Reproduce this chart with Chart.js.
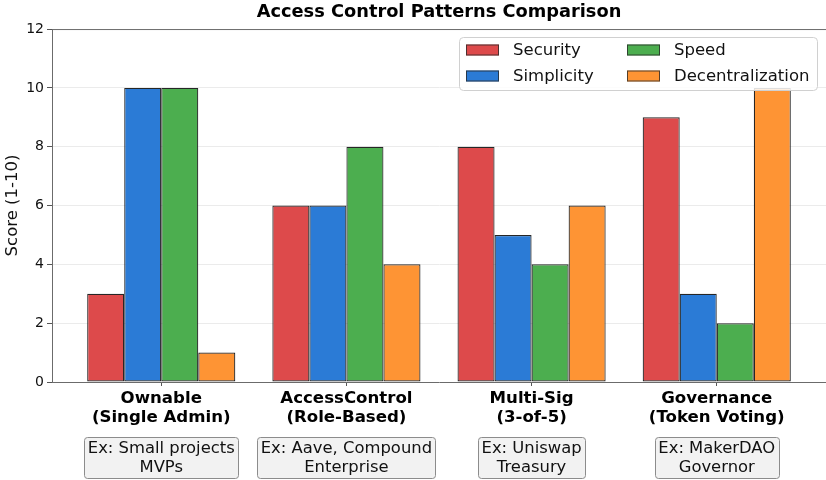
<!DOCTYPE html>
<html>
<head>
<meta charset="utf-8">
<script src="https://cdn.jsdelivr.net/npm/chart.js@4.4.1/dist/chart.umd.min.js"></script>
<style>
  html, body { margin: 0; padding: 0; background: #fff; }
  canvas { display: block; }
</style>
</head>
<body>
<canvas id="accessChart" width="826" height="480"></canvas>
<script>
// chart data
const patterns = [
  ["Ownable", "(Single Admin)"],
  ["AccessControl", "(Role-Based)"],
  ["Multi-Sig", "(3-of-5)"],
  ["Governance", "(Token Voting)"]
];
const examples = [
  ["Ex: Small projects", "MVPs"],
  ["Ex: Aave, Compound", "Enterprise"],
  ["Ex: Uniswap", "Treasury"],
  ["Ex: MakerDAO", "Governor"]
];
const seriesNames = ["Security", "Simplicity", "Speed", "Decentralization"];
const security = [3, 6, 8, 9];
const simplicity = [10, 6, 5, 3];
const speed = [10, 8, 4, 2];
const decentralization = [1, 4, 6, 10];
const yTicks = [0, 2, 4, 6, 8, 10, 12];

const colors = ['#dd4a4b', '#2b7bd6', '#4cae4f', '#fe9434'];
const edge = '#262626';
const font = 'DejaVu Sans';

const allSeries = [security, simplicity, speed, decentralization];

const ctx = document.getElementById('accessChart').getContext('2d');

// top spine, legend in two columns and the example boxes
const extras = {
  id: 'extras',
  afterDatasetsDraw(chart) {
    const c = chart.ctx;
    const area = chart.chartArea;
    c.save();
    c.strokeStyle = '#6b6b6b';
    c.lineWidth = 1;
    c.beginPath();
    c.moveTo(area.left, area.top + 0.5);
    c.lineTo(area.right, area.top + 0.5);
    c.stroke();

    // legend
    c.fillStyle = 'rgba(255,255,255,0.85)';
    c.strokeStyle = '#d0d0d0';
    c.beginPath();
    c.roundRect(459.5, 37.5, 358, 53, 4);
    c.fill();
    c.stroke();
    const colX = [466, 627];
    const rowY = [50, 76];
    c.font = '16.5px "' + font + '"';
    c.textBaseline = 'middle';
    c.textAlign = 'left';
    chart.data.datasets.forEach((ds, i) => {
      const x = colX[Math.floor(i / 2)];
      const y = rowY[i % 2];
      c.fillStyle = ds.backgroundColor;
      c.fillRect(x, y - 5.5, 33, 11);
      c.strokeStyle = 'rgba(40,40,40,0.8)';
      c.strokeRect(x + 0.5, y - 5, 32, 10);
      c.fillStyle = '#111';
      c.fillText(ds.label, x + 47, y + 1);
    });

    // example boxes under the categories
    const xs = chart.scales.x;
    c.font = '16.4px "' + font + '"';
    c.textAlign = 'center';
    examples.forEach((lines, i) => {
      const cx = xs.getPixelForValue(i);
      const w = Math.max(...lines.map(t => c.measureText(t).width)) + 7;
      c.fillStyle = '#f2f2f2';
      c.strokeStyle = '#8c8c8c';
      c.beginPath();
      c.roundRect(Math.round(cx - w / 2) + 0.5, 437.5, Math.round(w), 41, 3);
      c.fill();
      c.stroke();
      c.fillStyle = '#111';
      c.fillText(lines[0], cx, 448.5);
      c.fillText(lines[1], cx, 468);
    });
    c.restore();
  }
};

new Chart(ctx, {
  type: 'bar',
  data: {
    datasets: seriesNames.map((name, s) => ({
      label: name,
      data: allSeries[s].map((v, i) => ({ x: i, y: v })),
      backgroundColor: colors[s],
      borderColor: edge,
      borderWidth: 1.2,
      borderSkipped: false,
      categoryPercentage: 0.8,
      barPercentage: 1.0
    }))
  },
  options: {
    responsive: false,
    animation: false,
    devicePixelRatio: 1,
    layout: { padding: { left: 0, right: 0, top: 0, bottom: 0 } },
    plugins: {
      legend: { display: false },
      tooltip: { enabled: false },
      title: {
        display: true,
        fullSize: false,
        text: 'Access Control Patterns Comparison',
        color: '#000',
        font: { family: font, size: 17.8, weight: 'bold' },
        padding: { top: 1.5, bottom: 6.2 }
      }
    },
    scales: {
      x: {
        type: 'linear',
        min: -0.59,
        max: 3.59,
        offset: false,
        afterBuildTicks: (scale) => {
          scale.ticks = patterns.map((p, i) => ({ value: i }));
        },
        afterFit: (scale) => { scale.height = 98; },
        grid: { offset: false, drawOnChartArea: false, tickLength: 4, tickColor: '#555' },
        border: { color: '#6b6b6b', width: 1 },
        ticks: {
          autoSkip: false,
          maxRotation: 0,
          padding: 3,
          color: '#000',
          font: { family: font, size: 16.6, weight: 'bold', lineHeight: 1.14 },
          callback: (v) => patterns[v]
        }
      },
      y: {
        min: 0,
        max: 12,
        afterBuildTicks: (scale) => {
          scale.ticks = yTicks.map(v => ({ value: v }));
        },
        afterFit: (scale) => { scale.width = 52; },
        grid: { color: '#ebebeb', lineWidth: 1, tickLength: 5, tickColor: '#555' },
        border: { color: '#6b6b6b', width: 1 },
        ticks: {
          padding: 3,
          color: '#111',
          font: { family: font, size: 14 }
        },
        title: {
          display: true,
          text: 'Score (1-10)',
          color: '#111',
          padding: { top: 3, bottom: 0 },
          font: { family: font, size: 16.5 }
        }
      }
    }
  },
  plugins: [extras]
});
</script>
</body>
</html>
